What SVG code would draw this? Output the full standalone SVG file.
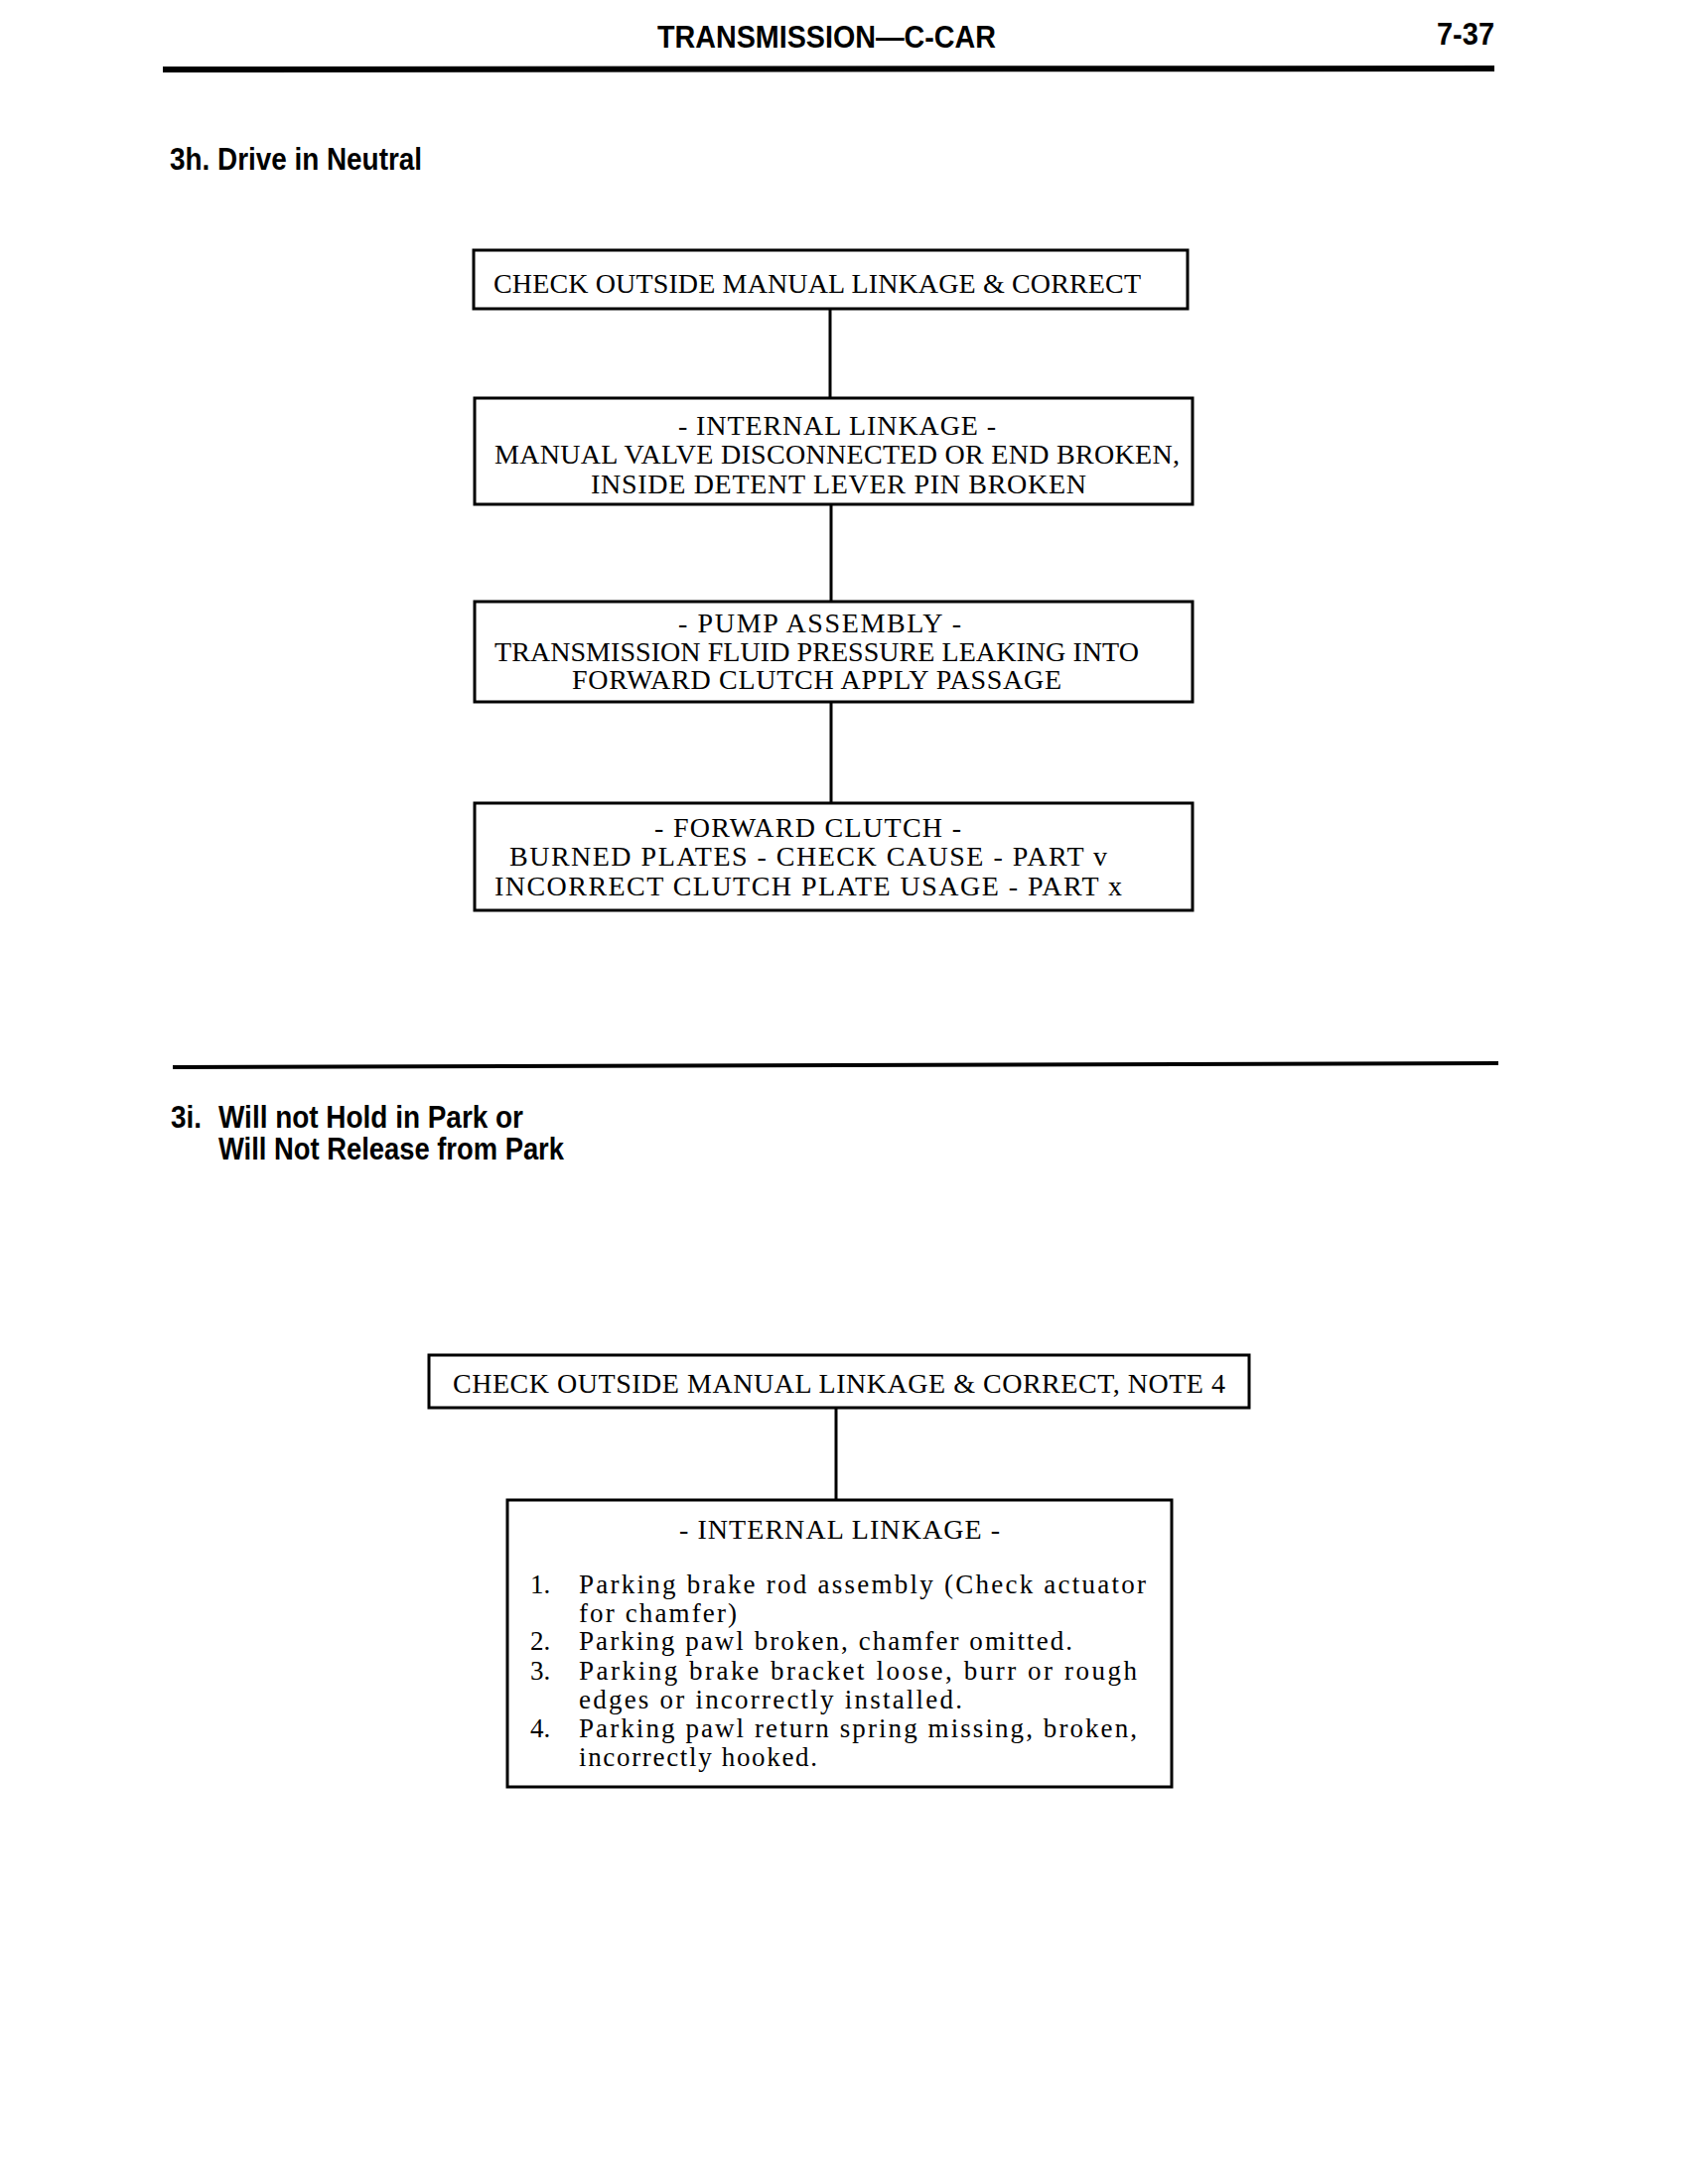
<svg xmlns="http://www.w3.org/2000/svg" width="1700" height="2200" viewBox="0 0 1700 2200">
<style>
.hd{font-family:"Liberation Sans",Arial,sans-serif;font-weight:bold;font-size:31px;fill:#000}
.bx{fill:#fff;stroke:#000;stroke-width:3}
.t{font-family:"Liberation Serif","Times New Roman",serif;font-size:28px;fill:#000}
.l{font-family:"Liberation Serif","Times New Roman",serif;font-size:27px;fill:#000}
.c{stroke:#000;stroke-width:3;fill:none}
.rule{stroke:#000;fill:none}
</style>
<rect width="1700" height="2200" fill="#fff"/>
<g id="header">
<text class="hd" x="662" y="48" textLength="341" lengthAdjust="spacingAndGlyphs">TRANSMISSION—C-CAR</text>
<text class="hd" x="1447" y="45" textLength="58" lengthAdjust="spacingAndGlyphs">7-37</text>
<line class="rule" x1="164" y1="70" x2="1505" y2="69" stroke-width="6"/>
</g>
<g id="heading-3h">
<text class="hd" x="171" y="171" textLength="254" lengthAdjust="spacingAndGlyphs">3h. Drive in Neutral</text>
</g>
<g id="connectors">
<line class="c" x1="836" y1="311" x2="836" y2="401"/>
<line class="c" x1="837" y1="508" x2="837" y2="606"/>
<line class="c" x1="837" y1="707" x2="837" y2="809"/>
<line class="c" x1="842" y1="1418" x2="842" y2="1511"/>
</g>
<g id="n1">
<rect class="bx" x="477" y="252" width="719" height="59"/>
<text class="t" x="497" y="295" textLength="652" lengthAdjust="spacing">CHECK OUTSIDE MANUAL LINKAGE &amp; CORRECT</text>
</g>
<g id="n2">
<rect class="bx" x="478" y="401" width="723" height="107"/>
<text class="t" x="683" y="438" textLength="320" lengthAdjust="spacing">- INTERNAL LINKAGE -</text>
<text class="t" x="498" y="467" textLength="690" lengthAdjust="spacing">MANUAL VALVE DISCONNECTED OR END BROKEN,</text>
<text class="t" x="595" y="497" textLength="499" lengthAdjust="spacing">INSIDE DETENT LEVER PIN BROKEN</text>
</g>
<g id="n3">
<rect class="bx" x="478" y="606" width="723" height="101"/>
<text class="t" x="683" y="637" textLength="285" lengthAdjust="spacing">- PUMP ASSEMBLY -</text>
<text class="t" x="498" y="666" textLength="649" lengthAdjust="spacing">TRANSMISSION FLUID PRESSURE LEAKING INTO</text>
<text class="t" x="576" y="694" textLength="493" lengthAdjust="spacing">FORWARD CLUTCH APPLY PASSAGE</text>
</g>
<g id="n4">
<rect class="bx" x="478" y="809" width="723" height="108"/>
<text class="t" x="659" y="843" textLength="309" lengthAdjust="spacing">- FORWARD CLUTCH -</text>
<text class="t" x="513" y="872" textLength="602" lengthAdjust="spacing">BURNED PLATES - CHECK CAUSE - PART v</text>
<text class="t" x="498" y="902" textLength="632" lengthAdjust="spacing">INCORRECT CLUTCH PLATE USAGE - PART x</text>
</g>
<g id="separator">
<line class="rule" x1="174" y1="1075" x2="1509" y2="1071" stroke-width="4"/>
</g>
<g id="heading-3i">
<text class="hd" x="172" y="1136" textLength="31" lengthAdjust="spacingAndGlyphs">3i.</text>
<text class="hd" x="220" y="1136" textLength="307" lengthAdjust="spacingAndGlyphs">Will not Hold in Park or</text>
<text class="hd" x="220" y="1168" textLength="348" lengthAdjust="spacingAndGlyphs">Will Not Release from Park</text>
</g>
<g id="n5">
<rect class="bx" x="432" y="1365" width="826" height="53"/>
<text class="t" x="456" y="1403" textLength="778" lengthAdjust="spacing">CHECK OUTSIDE MANUAL LINKAGE &amp; CORRECT, NOTE 4</text>
</g>
<g id="n6">
<rect class="bx" x="511" y="1511" width="669" height="289"/>
<text class="t" x="684" y="1550" textLength="323" lengthAdjust="spacing">- INTERNAL LINKAGE -</text>
<text class="l" x="534" y="1605">1.</text>
<text class="l" x="583" y="1605" textLength="571" lengthAdjust="spacing">Parking brake rod assembly (Check actuator</text>
<text class="l" x="583" y="1634" textLength="159" lengthAdjust="spacing">for chamfer)</text>
<text class="l" x="534" y="1662">2.</text>
<text class="l" x="583" y="1662" textLength="497" lengthAdjust="spacing">Parking pawl broken, chamfer omitted.</text>
<text class="l" x="534" y="1692">3.</text>
<text class="l" x="583" y="1692" textLength="562" lengthAdjust="spacing">Parking brake bracket loose, burr or rough</text>
<text class="l" x="583" y="1721" textLength="386" lengthAdjust="spacing">edges or incorrectly installed.</text>
<text class="l" x="534" y="1750">4.</text>
<text class="l" x="583" y="1750" textLength="562" lengthAdjust="spacing">Parking pawl return spring missing, broken,</text>
<text class="l" x="583" y="1779" textLength="240" lengthAdjust="spacing">incorrectly hooked.</text>
</g>
</svg>
